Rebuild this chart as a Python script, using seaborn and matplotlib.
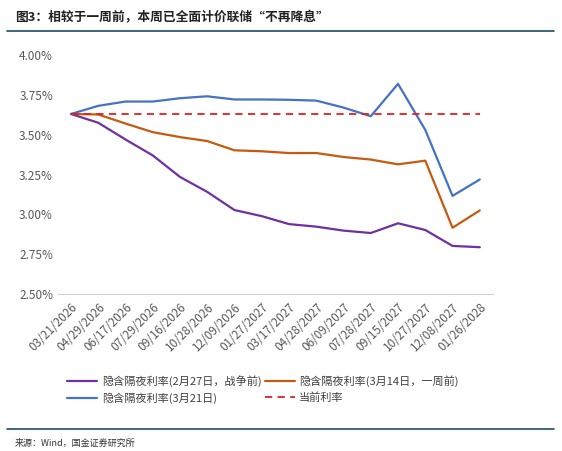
import numpy as np
import pandas as pd
import seaborn as sns
import matplotlib.pyplot as plt
from matplotlib.ticker import FuncFormatter

# data
dates = ["03/21/2026", "04/29/2026", "06/17/2026", "07/29/2026", "09/16/2026",
         "10/28/2026", "12/09/2026", "01/27/2027", "03/17/2027", "04/28/2027",
         "06/09/2027", "07/28/2027", "09/15/2027", "10/27/2027", "12/08/2027",
         "01/26/2028"]
pre_war = [3.63, 3.575, 3.47, 3.37, 3.235, 3.141, 3.027, 2.989, 2.939, 2.923,
           2.898, 2.883, 2.944, 2.902, 2.802, 2.794]
week_ago = [3.63, 3.627, 3.57, 3.516, 3.485, 3.46, 3.402, 3.396, 3.385, 3.385,
            3.36, 3.344, 3.314, 3.337, 2.916, 3.025]
mar21 = [3.63, 3.681, 3.708, 3.708, 3.729, 3.741, 3.721, 3.721, 3.719, 3.714,
         3.67, 3.616, 3.819, 3.53, 3.116, 3.219]
current_rate = 3.627

labels = ["隐含隔夜利率(2月27日，战争前)", "隐含隔夜利率(3月14日，一周前)",
          "隐含隔夜利率(3月21日)", "当前利率"]
colors = ["#7030A0", "#C55A11", "#4472C4", "#E02020"]

sns.set_style("white")
plt.rcParams['font.family'] = ['Noto Sans CJK SC', 'DejaVu Sans']

fig = plt.figure(figsize=(5.62, 4.51), dpi=100)
ax = fig.add_axes([0.103, 0.348, 0.774, 0.530])

x = np.arange(len(dates))
for vals, lab, c in zip([pre_war, week_ago, mar21], labels[:3], colors[:3]):
    sns.lineplot(x=x, y=vals, ax=ax, color=c, linewidth=1.6, label=lab)
sns.lineplot(x=x, y=[current_rate] * len(dates), ax=ax, color=colors[3],
             linewidth=1.3, linestyle=(0, (4, 3)), label=labels[3])

ax.set_xlim(-0.48, len(dates) - 1 + 0.48)
ax.set_ylim(2.5, 4.0)
ax.set_yticks([2.5, 2.75, 3.0, 3.25, 3.5, 3.75, 4.0])
ax.yaxis.set_major_formatter(FuncFormatter(lambda v, p: f"{v:.2f}%"))
ax.set_xticks(x)
ax.set_xticklabels(dates, rotation=45, ha="right", rotation_mode="anchor")
ax.tick_params(axis="both", labelsize=8.5, colors="#595959", length=0)
ax.tick_params(axis="x", pad=5)
for s in ["top", "right", "left"]:
    ax.spines[s].set_visible(False)
ax.spines["bottom"].set_color("#D0D0D0")

h, l = ax.get_legend_handles_labels()
ax.get_legend().remove()
# column-major fill: reorder so rows read (pre_war, week_ago), (mar21, current)
order = [0, 2, 1, 3]
fig.legend([h[i] for i in order], [l[i] for i in order], ncol=2, loc="center",
           bbox_to_anchor=(0.468, 0.137), frameon=False, fontsize=8,
           handlelength=2.7, columnspacing=0.3, handletextpad=0.4,
           labelspacing=0.5, labelcolor="#404040")

fig.text(0.027, 0.962, "图3：相较于一周前，本周已全面计价联储“不再降息”",
         fontsize=9.2, fontweight="bold", style="italic", color="#222222",
         va="center")
fig.add_artist(plt.Line2D([0.012, 0.985], [0.931, 0.931], color="#1F4E5F",
                          linewidth=1.2))
fig.add_artist(plt.Line2D([0.012, 0.985], [0.048, 0.048], color="#1F4E5F",
                          linewidth=1.2))
fig.text(0.027, 0.018, "来源：Wind，国金证券研究所", fontsize=6.5,
         color="#333333", va="center")

fig.savefig("out.png", dpi=100)
